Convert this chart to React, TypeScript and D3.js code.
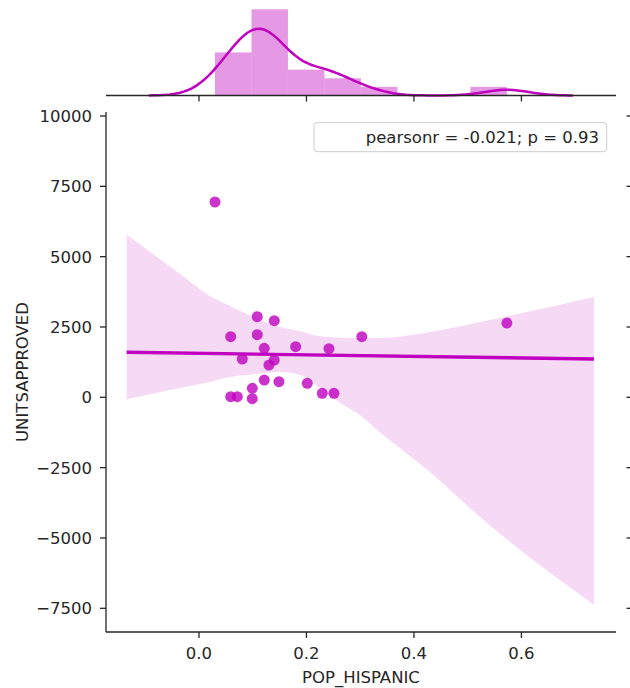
import React from "react";
import * as d3 from "d3";

// ---- data ----
const popHispanic = [
  0.1085, 0.1401, 0.059, 0.1085, 0.1215, 0.1799, 0.2419, 0.303, 0.0806, 0.1401, 0.1302,
  0.1215, 0.1488, 0.2015, 0.0992, 0.059, 0.0713, 0.0992, 0.2294, 0.2512, 0.0298, 0.573,
];
const unitsApproved = [
  2865, 2723, 2154, 2225, 1742, 1799, 1728, 2154, 1362, 1326, 1148,
  615, 555, 498, 320, 21, 21, -50, 142, 142, 6943, 2641,
];

// regression fit line
const lineX = [-0.1345, 0.735];
const lineY = [1600, 1362];

// confidence band
const bandX = [-0.1345, -0.035, 0.02, 0.058, 0.089, 0.151, 0.194, 0.212, 0.244, 0.281, 0.294, 0.337, 0.43, 0.523, 0.735];
const bandHigh = [5779, 4383, 3601, 3246, 2961, 2499, 2321, 2215, 2144, 2108, 2108, 2108, 2321, 2677, 3566];
const bandLow = [-71, 331, 544, 722, 793, 899, 757, 508, 46, -416, -558, -1248, -2656, -4255, -7384];

const xTicks = [0.0, 0.2, 0.4, 0.6];
const yTicks = [10000, 7500, 5000, 2500, 0, -2500, -5000, -7500];
const legendText = "pearsonr = -0.021; p = 0.93";
const xLabel = "POP_HISPANIC";
const yLabel = "UNITSAPPROVED";

const COLOR = "#bf00bf";
const INK = "#262626";
const FONT = "DejaVu Sans, sans-serif";
const FS = 16.5;

export default function App() {
  const W = 630;
  const H = 688;
  const left = 106, right = 616, top = 112, bottom = 632;
  const mTop = 5, mBottom = 95.5;

  const x = d3.scaleLinear().domain([-0.173, 0.776]).range([left, right]);
  const y = d3.scaleLinear().domain([-8342, 10142]).range([bottom, top]);

  // histogram (Freedman–Diaconis bins, as seaborn distplot)
  const n = popHispanic.length;
  const sorted = [...popHispanic].sort((a, b) => a - b);
  const q1 = d3.quantileSorted(sorted, 0.25) as number;
  const q3 = d3.quantileSorted(sorted, 0.75) as number;
  const iqr = q3 - q1;
  const xmin = sorted[0], xmax = sorted[n - 1];
  const h = (2 * iqr) / Math.cbrt(n);
  const nBins = Math.min(50, Math.ceil((xmax - xmin) / h));
  const bw = (xmax - xmin) / nBins;
  const thresholds = d3.range(1, nBins).map((i) => xmin + i * bw);
  const bins = d3.bin().domain([xmin, xmax]).thresholds(thresholds)(popHispanic);
  const dens = bins.map((b) => b.length / (n * bw));

  // KDE (gaussian, statsmodels scott bandwidth)
  const sd = d3.deviation(popHispanic) as number;
  const A = Math.min(sd, iqr / 1.349);
  const kbw = 1.059 * A * Math.pow(n, -0.2);
  const g0 = xmin - 3 * kbw, g1 = xmax + 3 * kbw;
  const grid = d3.range(100).map((i) => g0 + (i * (g1 - g0)) / 99);
  const kde = grid.map((g) => {
    const s = d3.sum(popHispanic, (v) => Math.exp(-0.5 * ((g - v) / kbw) ** 2));
    return [g, s / (n * kbw * Math.sqrt(2 * Math.PI))] as [number, number];
  });

  const maxD = Math.max(d3.max(dens) as number, d3.max(kde, (d) => d[1]) as number);
  const ym = d3.scaleLinear().domain([0, maxD * 1.05]).range([mBottom, mTop]);

  const kdeLine = d3.line<[number, number]>().x((d) => x(d[0])).y((d) => ym(d[1]))(kde) as string;

  const bandPts = bandX.map((v, i) => ({ x: v, lo: bandLow[i], hi: bandHigh[i] }));
  const bandPath = d3
    .area<{ x: number; lo: number; hi: number }>()
    .curve(d3.curveMonotoneX)
    .x((d) => x(d.x))
    .y0((d) => y(d.lo))
    .y1((d) => y(d.hi))(bandPts) as string;

  const regPath = d3
    .line<number>()
    .x((d) => x(d))
    .y((_, i) => y(lineY[i]))(lineX) as string;

  return (
    <svg
      width={W}
      height={H}
      style={{ position: "absolute", left: 0, top: 0, background: "#fff" }}
      fontFamily={FONT}
    >
      <rect x={0} y={0} width={W} height={H} fill="#fff" />

      {/* marginal histogram */}
      {bins.map((b, i) => (
        <rect
          key={i}
          x={x(b.x0 as number)}
          width={x(b.x1 as number) - x(b.x0 as number)}
          y={ym(dens[i])}
          height={ym(0) - ym(dens[i])}
          fill={COLOR}
          fillOpacity={0.4}
        />
      ))}
      <path d={kdeLine} fill="none" stroke={COLOR} strokeWidth={2.5} />
      <line x1={left} x2={right} y1={mBottom} y2={mBottom} stroke={INK} strokeWidth={1.3} />
      {xTicks.map((t) => (
        <line key={"mt" + t} x1={x(t)} x2={x(t)} y1={mBottom} y2={mBottom + 6} stroke={INK} strokeWidth={1.3} />
      ))}

      {/* confidence band and regression line */}
      <path d={bandPath} fill={COLOR} fillOpacity={0.15} />
      <path d={regPath} fill="none" stroke={COLOR} strokeWidth={3.4} />

      {/* scatter */}
      {popHispanic.map((v, i) => (
        <circle key={"p" + i} cx={x(v)} cy={y(unitsApproved[i])} r={5.5} fill={COLOR} fillOpacity={0.8} />
      ))}

      {/* axes */}
      <line x1={left} x2={left} y1={top} y2={bottom} stroke={INK} strokeWidth={1.3} />
      <line x1={left} x2={right} y1={bottom} y2={bottom} stroke={INK} strokeWidth={1.3} />
      {xTicks.map((t) => (
        <g key={"xt" + t}>
          <line x1={x(t)} x2={x(t)} y1={bottom} y2={bottom + 6} stroke={INK} strokeWidth={1.3} />
          <text x={x(t)} y={659} textAnchor="middle" fontSize={FS} fill={INK}>
            {t.toFixed(1)}
          </text>
        </g>
      ))}
      {yTicks.map((t) => (
        <g key={"yt" + t}>
          <line x1={left - 6} x2={left} y1={y(t)} y2={y(t)} stroke={INK} strokeWidth={1.3} />
          <text x={92} y={y(t)} dy="0.36em" textAnchor="end" fontSize={FS} fill={INK}>
            {t < 0 ? "\u2212" + Math.abs(t) : String(t)}
          </text>
          <line x1={626.5} x2={632} y1={y(t)} y2={y(t)} stroke={INK} strokeWidth={1.3} />
        </g>
      ))}
      <text x={(left + right) / 2} y={683} textAnchor="middle" fontSize={FS} fill={INK}>
        {xLabel}
      </text>
      <text
        transform={`translate(28.3, ${(top + bottom) / 2}) rotate(-90)`}
        textAnchor="middle"
        fontSize={FS}
        fill={INK}
      >
        {yLabel}
      </text>

      {/* legend */}
      <rect x={314} y={122.7} width={292.7} height={29} rx={3} fill="#fff" fillOpacity={0.8} stroke="#cccccc" strokeWidth={1} />
      <text x={599} y={142.5} textAnchor="end" fontSize={FS} fill={INK}>
        {legendText}
      </text>
    </svg>
  );
}
